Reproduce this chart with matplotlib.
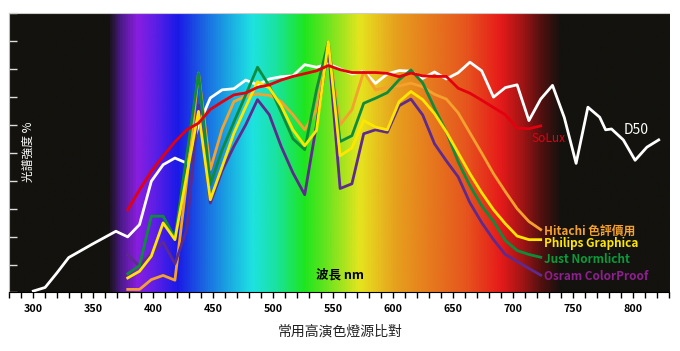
import numpy as np
import matplotlib
matplotlib.use('Agg')
import matplotlib.pyplot as plt
from matplotlib.colors import LinearSegmentedColormap

plt.rcParams['font.family'] = ['Noto Sans CJK TC', 'DejaVu Sans']

# D50 reference (relative %)
d50_wl = [300, 310, 320, 330, 340, 350, 360, 370, 380, 390, 400, 410, 420, 430,
          440, 450, 460, 470, 480, 490, 500, 510, 520, 530, 540, 550, 560, 570,
          580, 590, 600, 610, 620, 630, 640, 650, 660, 670, 680, 690, 700, 710,
          720, 730, 740, 750, 760, 770, 780, 785, 790, 800, 810, 820, 830]
d50 = [0.5, 1.8, 7.0, 12.5, 14.9, 17.3, 19.6, 21.9, 19.9, 24.3, 39.8, 45.7, 48.1, 46.3,
       59.8, 69.6, 72.5, 72.9, 76.0, 74.3, 76.4, 77.2, 77.5, 81.5, 80.6, 81.8, 80.0, 78.2,
       79.1, 74.8, 78.2, 79.4, 79.2, 76.6, 78.9, 76.4, 78.6, 82.4, 79.3, 69.9, 73.3, 74.3,
       61.5, 69.2, 74.1, 62.6, 46.2, 66.3, 62.7, 58.2, 58.5, 54.6, 47.3, 52.0, 54.6]

# lamps, 380-730 nm every 10 nm
lamp_wl = [380, 390, 400, 410, 420, 430, 440, 450, 460, 470, 480, 490, 500, 510,
           520, 530, 540, 550, 560, 570, 580, 590, 600, 610, 620, 630, 640, 650,
           660, 670, 680, 690, 700, 710, 720, 730]
solux = [29.6, 36.7, 43.3, 48.8, 53.9, 58.2, 60.6, 65.5, 68.2, 70.7, 71.4, 73.4, 74.3, 76.0,
         77.3, 78.3, 79.3, 81.2, 79.7, 78.7, 78.7, 78.7, 78.4, 77.2, 78.5, 77.5, 77.3, 77.3,
         73.1, 71.3, 68.8, 66.2, 63.6, 58.8, 58.6, 59.6]
hitachi = [1.1, 1.1, 4.6, 6.1, 4.4, 40.0, 78.5, 44.0, 58.5, 68.3, 70.2, 71.0, 70.5, 68.3,
           63.6, 58.2, 65.4, 89.2, 60.0, 65.4, 79.0, 72.5, 73.5, 73.9, 74.9, 73.6, 70.9, 69.2,
           64.3, 57.1, 49.9, 42.5, 36.1, 30.0, 25.4, 22.5]
philips = [5.2, 7.6, 13.0, 24.9, 18.9, 42.0, 64.8, 33.2, 45.0, 57.0, 66.4, 75.4, 73.2, 66.8,
           58.2, 52.5, 58.0, 89.8, 48.9, 51.7, 61.5, 59.2, 58.2, 68.3, 71.9, 69.0, 64.0, 57.5,
           50.0, 42.5, 35.7, 29.6, 24.6, 20.2, 18.9, 18.9]
just = [6.7, 9.6, 27.3, 27.3, 19.5, 49.0, 78.5, 38.6, 51.0, 61.0, 70.7, 80.6, 73.9, 64.6,
        55.0, 51.1, 72.5, 89.8, 54.0, 56.1, 67.7, 69.5, 71.5, 76.1, 79.6, 75.0, 66.0, 57.5,
        46.8, 38.2, 31.0, 25.4, 18.6, 15.0, 13.6, 12.6]
osram = [13.5, 9.4, 14.0, 18.0, 10.3, 22.5, 67.1, 32.0, 43.5, 52.3, 60.0, 69.0, 63.6, 52.3,
         42.8, 35.0, 60.0, 88.0, 37.2, 38.9, 56.8, 58.2, 57.3, 66.8, 69.2, 63.5, 53.2, 47.1,
         41.4, 32.1, 25.0, 18.9, 13.6, 11.1, 8.6, 6.2]

# spectrum backdrop stops (nm, colour)
spec_nm = [280, 362, 372, 386, 402, 420, 445, 465, 482, 502, 526, 546, 572, 602, 632,
           660, 690, 708, 724, 740, 830]
spec_col = ['#13120e', '#13120e', '#4a1a86', '#8a1ee0', '#5a1ee6', '#1a1ae6', '#1a70e2',
            '#1ab0e2', '#1ee2e2', '#1ae2a0', '#1ee61e', '#70e41e', '#e6e41e', '#e6a01e',
            '#e6781e', '#e6561e', '#e61a1a', '#a01515', '#501010', '#13120e', '#13120e']

# curves were drawn on a slightly tighter scale than the tick axis
def xs(wl):
    return 300 + (np.array(wl) - 300) * 0.9833

fig = plt.figure(figsize=(6.8, 3.51), dpi=100)
ax = fig.add_axes([0.0137, 0.1667, 0.9706, 0.7963])

cmap = LinearSegmentedColormap.from_list(
    'spec', [((n - 280) / 550, c) for n, c in zip(spec_nm, spec_col)])
grad = np.linspace(0, 1, 1100).reshape(1, -1)
ax.imshow(grad, cmap=cmap, extent=[280, 830, 0, 100], aspect='auto', zorder=0)

ax.plot(xs(d50_wl), d50, color='white', lw=2, zorder=3)
ax.plot(xs(lamp_wl), hitachi, color='#f4a12e', lw=2, zorder=3)
ax.plot(xs(lamp_wl), osram, color='#5e2a8e', lw=2, zorder=3)
ax.plot(xs(lamp_wl), just, color='#0e8c3c', lw=2, zorder=3)
ax.plot(xs(lamp_wl), philips, color='#ffe600', lw=2, zorder=3)
ax.plot(xs(lamp_wl), solux, color='#e3000f', lw=2, zorder=4)

ax.set_xlim(280, 830)
ax.set_ylim(0, 100)
ax.set_xticks(range(300, 801, 50))
ax.set_xticks(range(280, 831, 10), minor=True)
ax.set_yticks(range(0, 101, 10))
ax.set_yticklabels([])
ax.tick_params(axis='x', which='both', direction='out', length=4, width=1, color='black')
ax.tick_params(axis='x', labelsize=7.7, pad=4)
ax.tick_params(axis='y', direction='in', length=6, width=1, color='#dddddd')
for lab in ax.get_xticklabels():
    lab.set_fontweight('bold')
ax.spines['bottom'].set_color('black')
ax.spines['left'].set_color('#bbbbbb')
ax.spines['top'].set_color('#cccccc')
ax.spines['right'].set_visible(False)

ax.text(295.6, 50.5, '光譜強度 %', color='white', fontsize=8.5, rotation=90,
        ha='center', va='center')
ax.text(555.6, 6.3, '波長 nm', color='black', fontsize=9, fontweight='bold',
        ha='center', va='center')
ax.text(791.7, 58.3, 'D50', color='white', fontsize=10, va='center')
ax.text(714.8, 55.1, 'SoLux', color='#e3000f', fontsize=8.5, fontweight='medium', va='center')
ax.text(725.8, 22.0, 'Hitachi 色評價用', color='#f4a12e', fontsize=8.5, fontweight='bold', va='center')
ax.text(725.8, 17.6, 'Philips Graphica', color='#ffe600', fontsize=8.5, fontweight='bold', va='center')
ax.text(725.8, 11.9, 'Just Normlicht', color='#0b9a3b', fontsize=8.5, fontweight='bold', va='center')
ax.text(725.8, 5.6, 'Osram ColorProof', color='#8e1f8e', fontsize=8.5, fontweight='bold', va='center')

fig.text(0.5, 1 - 331.7 / 351, '常用高演色燈源比對', color='#222222', fontsize=10,
         ha='center', va='center')

fig.savefig('out.png', dpi=100)
